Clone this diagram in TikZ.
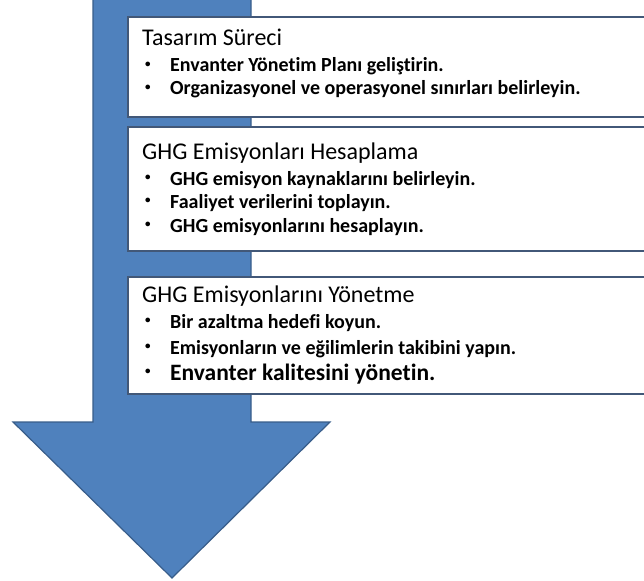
\documentclass[tikz,border=0pt]{standalone}
\usepackage{fontspec}
\setmainfont[Ligatures=NoCommon]{Carlito}
\definecolor{arrowblue}{RGB}{79,129,189}
\definecolor{arrowedge}{RGB}{56,93,138}
\definecolor{boxedge}{RGB}{66,88,120}
\tikzset{
  stagebox/.style={draw=boxedge,line width=2.2pt,fill=white},
  title/.style={anchor=base west,inner sep=0pt,font=\fontsize{24}{28}\selectfont},
  item/.style={anchor=base west,inner sep=0pt,font=\bfseries\fontsize{20}{24}\selectfont},
  bigitem/.style={item,font=\bfseries\fontsize{23.5}{28}\selectfont}
}
\newcommand{\bul}[1]{\makebox[25pt][l]{\raisebox{.5ex}{\fontsize{11}{11}\selectfont\textbullet}}#1}
\begin{document}
\begin{tikzpicture}[x=1pt,y=-1pt]
\useasboundingbox (0,0) rectangle (644,580);
\clip (0,0) rectangle (644,580);
% arrow
\draw[fill=arrowblue,draw=arrowedge,line width=1.2pt,line join=miter]
  (93,-5)--(93,422)--(13,422)--(172,578)--(330,422)--(251,422)--(251,-5)--cycle;
% stage boxes
\draw[stagebox] (128,17) rectangle (660,117);
\draw[stagebox] (128,127) rectangle (660,251);
\draw[stagebox] (128,277) rectangle (660,394);
% texts
\node[title] (t1) at (142,46) {Tasarım Süreci};
\node[item] (b11) at (145,72) {\bul{Envanter Yönetim Planı geliştirin.}};
\node[item] (b12) at (145,95) {\bul{Organizasyonel ve operasyonel sınırları belirleyin.}};
\node[title] (t2) at (142,160) {GHG Emisyonları Hesaplama};
\node[item] (b21) at (145,185) {\bul{GHG emisyon kaynaklarını belirleyin.}};
\node[item] (b22) at (145,208) {\bul{Faaliyet verilerini toplayın.}};
\node[item] (b23) at (145,232) {\bul{GHG emisyonlarını hesaplayın.}};
\node[title] (t3) at (142,302) {GHG Emisyonlarını Yönetme};
\node[item] (b31) at (145,328) {\bul{Bir azaltma hedefi koyun.}};
\node[item] (b32) at (145,354) {\bul{Emisyonların ve eğilimlerin takibini yapın.}};
\node[bigitem] (b33) at (145,380) {\bul{Envanter kalitesini yönetin.}};
\end{tikzpicture}
\end{document}
